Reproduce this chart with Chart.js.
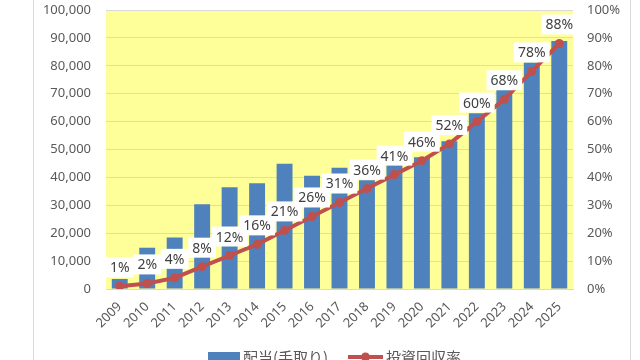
<!DOCTYPE html>
<html>
<head>
<meta charset="utf-8">
<script src="https://cdn.jsdelivr.net/npm/chart.js@4/dist/chart.umd.min.js"></script>
<style>
    html, body { margin: 0; padding: 0; background: #ffffff; }
    #wrap { width: 640px; height: 360px; position: relative; }
</style>
</head>
<body>
<div id="wrap"><canvas id="chart1"></canvas></div>
<script>
var years = ['2009', '2010', '2011', '2012', '2013', '2014', '2015', '2016', '2017',
    '2018', '2019', '2020', '2021', '2022', '2023', '2024', '2025'];
var dividends = [3600, 14800, 18500, 30400, 36500, 37900, 44900, 40600, 43500,
    39000, 44400, 47200, 53000, 63000, 71600, 81200, 88900];
var recoveryRate = [1, 2, 4, 8, 12, 16, 21, 26, 31, 36, 41, 46, 52, 60, 68, 78, 88];
var barLabel = '配当(手取り)';
var lineLabel = '投資回収率';

var blue = '#4F81BD';
var red = '#C0504D';
var gridColor = '#D9D9D9';
var tickColor = '#595959';
var fontFamily = '"Noto Sans", "Noto Sans CJK JP", sans-serif';

var backgroundPlugin = {
    id: 'plotBackground',
    beforeDraw: function (chart) {
        var ctx = chart.ctx;
        var a = chart.chartArea;
        ctx.save();
        ctx.fillStyle = '#FFFF99';
        ctx.fillRect(a.left, a.top, a.right - a.left, a.bottom - a.top);
        ctx.strokeStyle = gridColor;
        ctx.lineWidth = 1;
        ctx.beginPath();
        ctx.moveTo(33.5, 0);
        ctx.lineTo(33.5, 360);
        ctx.moveTo(630.5, 0);
        ctx.lineTo(630.5, 360);
        ctx.stroke();
        ctx.restore();
    }
};

// white boxed percentage labels above the line points
var labelPlugin = {
    id: 'rateLabels',
    afterDatasetsDraw: function (chart) {
        var ctx = chart.ctx;
        var meta = chart.getDatasetMeta(1);
        ctx.save();
        ctx.font = '14px ' + fontFamily;
        ctx.textAlign = 'center';
        ctx.textBaseline = 'middle';
        for (var i = 0; i < meta.data.length; i++) {
            var pt = meta.data[i];
            var text = recoveryRate[i] + '%';
            var w = ctx.measureText(text).width + 8;
            var h = 20;
            var cy = pt.y - 19;
            ctx.fillStyle = '#ffffff';
            ctx.fillRect(pt.x - w / 2, cy - h / 2, w, h);
            ctx.fillStyle = '#404040';
            ctx.fillText(text, pt.x, cy + 1);
        }
        ctx.restore();
    }
};

// legend at the bottom, partly cut off like the original
var legendPlugin = {
    id: 'bottomLegend',
    afterDraw: function (chart) {
        var ctx = chart.ctx;
        var y = 357;
        ctx.save();
        ctx.fillStyle = blue;
        ctx.fillRect(208, 352, 32, 12);
        ctx.strokeStyle = red;
        ctx.lineWidth = 4;
        ctx.beginPath();
        ctx.moveTo(348, y);
        ctx.lineTo(383, y);
        ctx.stroke();
        ctx.fillStyle = red;
        ctx.beginPath();
        ctx.arc(365.5, y, 4.5, 0, Math.PI * 2);
        ctx.fill();
        ctx.font = '15px "Noto Sans CJK JP", sans-serif';
        ctx.fillStyle = tickColor;
        ctx.textBaseline = 'middle';
        ctx.fillText(barLabel, 243, y);
        ctx.fillText(lineLabel, 386, y);
        ctx.restore();
    }
};

function fitY(width) {
    return function (scale) {
        scale.width = width;
        scale.paddingTop = 0;
        scale.paddingBottom = 0;
    };
}

function setupChart1() {
    var config = {
        type: 'bar',
        plugins: [backgroundPlugin, labelPlugin, legendPlugin],
        data: {
            labels: years,
            datasets: [{
                type: 'bar',
                label: barLabel,
                data: dividends,
                backgroundColor: blue,
                borderWidth: 0,
                barPercentage: 0.58,
                categoryPercentage: 1,
                yAxisID: 'y',
                order: 2
            }, {
                type: 'line',
                label: lineLabel,
                data: recoveryRate,
                borderColor: red,
                backgroundColor: red,
                borderWidth: 4,
                pointRadius: 4.5,
                pointBackgroundColor: red,
                pointBorderWidth: 0,
                tension: 0,
                yAxisID: 'y1',
                order: 1
            }]
        },
        options: {
            responsive: true,
            maintainAspectRatio: false,
            animation: false,
            layout: {
                padding: { top: 10, left: 0, right: 0, bottom: 0 }
            },
            plugins: {
                legend: { display: false },
                tooltip: { enabled: false }
            },
            scales: {
                x: {
                    grid: { display: false },
                    border: { display: true, color: gridColor },
                    ticks: {
                        color: tickColor,
                        font: { size: 13, family: fontFamily },
                        minRotation: 45,
                        maxRotation: 45,
                        padding: 2
                    },
                    afterFit: function (scale) { scale.height = 71; }
                },
                y: {
                    position: 'left',
                    min: 0,
                    max: 100000,
                    grid: { color: gridColor, drawTicks: false },
                    border: { display: false },
                    ticks: {
                        stepSize: 10000,
                        color: tickColor,
                        padding: 15,
                        font: { size: 13, family: fontFamily },
                        callback: function (v) { return v.toLocaleString('en-US'); }
                    },
                    afterFit: fitY(106)
                },
                y1: {
                    position: 'right',
                    min: 0,
                    max: 100,
                    grid: { display: false, drawTicks: false },
                    border: { display: false },
                    ticks: {
                        stepSize: 10,
                        color: tickColor,
                        padding: 14,
                        font: { size: 13, family: fontFamily },
                        callback: function (v) { return v + '%'; }
                    },
                    afterFit: fitY(67)
                }
            }
        }
    };

    var ctx = document.getElementById('chart1').getContext('2d');
    return new Chart(ctx, config);
}

setupChart1();
</script>
</body>
</html>
